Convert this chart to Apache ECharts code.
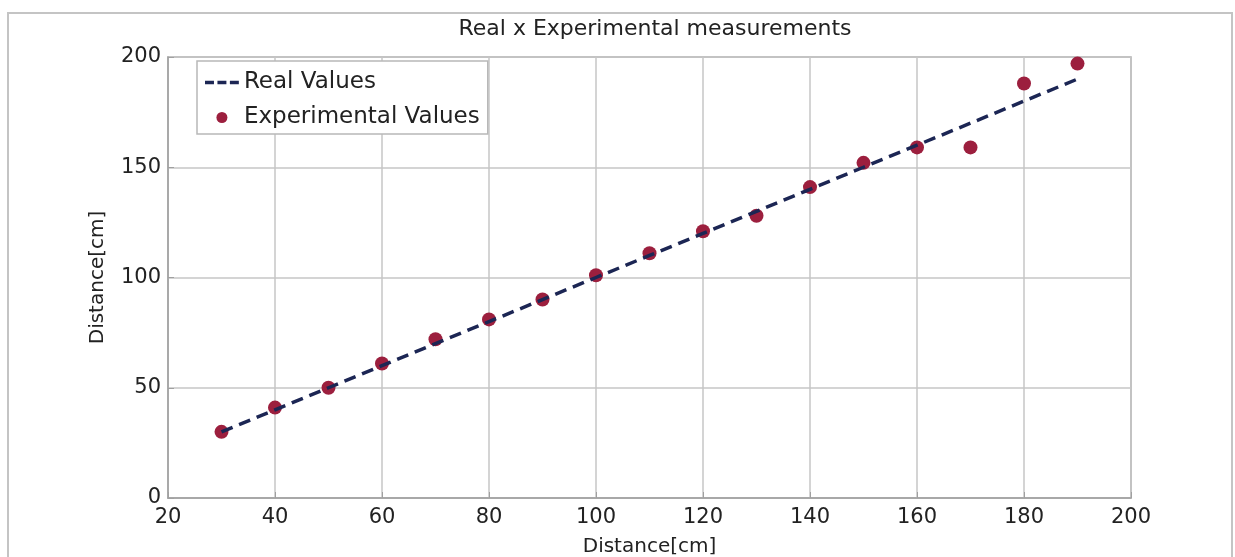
<!DOCTYPE html>
<html>
<head>
<meta charset="utf-8">
<script src="https://cdn.jsdelivr.net/npm/echarts@6/dist/echarts.min.js"></script>
<style>
html,body{margin:0;padding:0;background:#fff;}
#c{width:1235px;height:557px;}
</style>
</head>
<body>
<div id="c"></div>
<script>
var titleText = 'Real x Experimental measurements';
var xAxisName = 'Distance[cm]';
var yAxisName = 'Distance[cm]';
var distances = [30, 40, 50, 60, 70, 80, 90, 100, 110, 120, 130, 140, 150, 160, 170, 180, 190];
var realValues = [30, 40, 50, 60, 70, 80, 90, 100, 110, 120, 130, 140, 150, 160, 170, 180, 190];
var experimentalValues = [30, 41, 50, 61, 72, 81, 90, 101, 111, 121, 128, 141, 152, 159, 159, 188, 197];

var realData = distances.map(function (d, i) { return [d, realValues[i]]; });
var expData = distances.map(function (d, i) { return [d, experimentalValues[i]]; });

var font = 'DejaVu Sans';
var dashIcon = 'path://M0,0h0.05v0.05h-0.05z M0,11h0.05v0.05h-0.05z M0,3.8h9v3.6h-9z M12.5,3.8h9v3.6h-9z M25,3.8h9v3.6h-9z';
var chart = echarts.init(document.getElementById('c'));
chart.setOption({
  backgroundColor: '#ffffff',
  animation: false,
  graphic: [{
    type: 'rect',
    shape: { x: 8, y: 13, width: 1224, height: 550 },
    style: { fill: 'none', stroke: '#c4c4c4', lineWidth: 2 },
    z: -10
  }],
  title: {
    text: titleText,
    left: 650, textAlign: 'center',
    top: 13,
    textStyle: { fontFamily: font, fontSize: 22, fontWeight: 'normal', color: '#222' }
  },
  legend: {
    orient: 'vertical',
    left: 197, top: 61,
    padding: [10, 8, 5, 8],
    itemGap: 12,
    itemWidth: 34,
    itemHeight: 11,
    backgroundColor: '#ffffff',
    borderColor: '#b8b8b8',
    borderWidth: 1.5,
    borderRadius: 0,
    textStyle: { fontFamily: font, fontSize: 23, color: '#222' },
    data: [
      { name: 'Real Values', icon: dashIcon },
      { name: 'Experimental Values', icon: 'circle' }
    ]
  },
  grid: { left: 168, right: 104, top: 57, bottom: 59, outerBoundsMode: 'none', containLabel: false, show: true, borderColor: '#a8a8a8', borderWidth: 1.5 },
  xAxis: {
    type: 'value', min: 20, max: 200, interval: 20,
    name: xAxisName, nameLocation: 'middle', nameGap: 39,
    nameTextStyle: { fontFamily: font, fontSize: 20, color: '#222' },
    axisLine: { show: true, lineStyle: { color: '#a0a0a0', width: 1.5 } },
    axisTick: { show: true, inside: true, length: 6, lineStyle: { color: '#a0a0a0' } },
    axisLabel: { fontFamily: font, fontSize: 21, color: '#222', margin: 9 },
    splitLine: { show: true, lineStyle: { color: '#c6c6c6', width: 1.5 } }
  },
  yAxis: {
    type: 'value', min: 0, max: 200, interval: 50,
    name: yAxisName, nameLocation: 'middle', nameGap: 60,
    nameTextStyle: { fontFamily: font, fontSize: 20, color: '#222' },
    axisLine: { show: true, lineStyle: { color: '#a0a0a0', width: 1.5 } },
    axisTick: { show: true, inside: true, length: 6, lineStyle: { color: '#a0a0a0' } },
    axisLabel: { fontFamily: font, fontSize: 21, color: '#222', margin: 7 },
    splitLine: { show: true, lineStyle: { color: '#c6c6c6', width: 1.5 } }
  },
  series: [
    {
      name: 'Real Values', type: 'line', data: realData,
      symbol: 'none', z: 3,
      lineStyle: { color: '#1c2654', width: 3.5, type: [12, 7] },
      itemStyle: { color: '#1c2654' }
    },
    {
      name: 'Experimental Values', type: 'scatter', data: expData,
      symbol: 'circle', symbolSize: 14, z: 2,
      itemStyle: { color: '#9c1f3e', opacity: 1 }
    }
  ]
});
</script>
</body>
</html>
